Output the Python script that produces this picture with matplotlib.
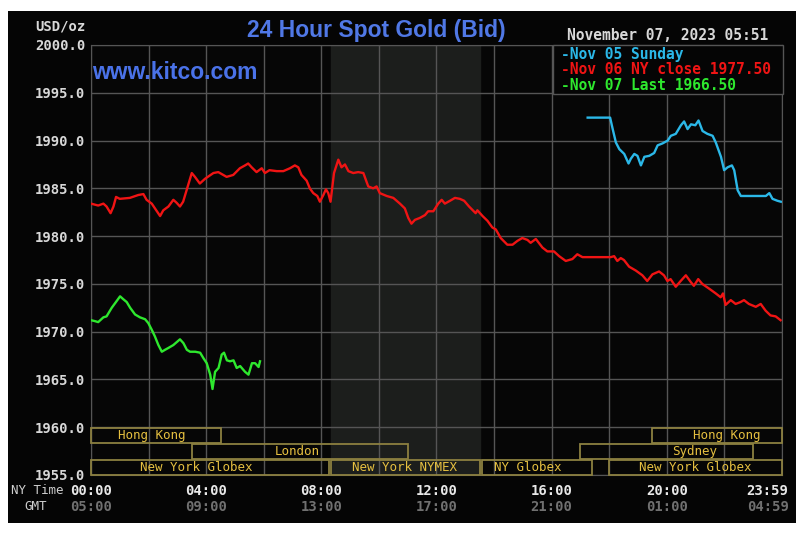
import matplotlib
matplotlib.use('Agg')
import matplotlib.pyplot as plt
from matplotlib.patches import Rectangle

W, H = 803, 535

# ---- data (hours NY time, USD/oz) ----
nov06_hours = [0.0, 0.25, 0.43, 0.54, 0.68, 0.78, 0.87, 1.0, 1.35, 1.64, 1.82, 1.93, 2.11, 2.4, 2.51,
               2.69, 2.86, 2.97, 3.09, 3.2, 3.32, 3.5, 3.61, 3.78, 3.96, 4.25, 4.42, 4.71, 4.94, 5.17,
               5.35, 5.46, 5.58, 5.75, 5.93, 6.04, 6.2, 6.45, 6.68, 6.91, 7.08, 7.2, 7.31, 7.49, 7.6,
               7.72, 7.86, 7.95, 8.07, 8.16, 8.24, 8.32, 8.44, 8.59, 8.7, 8.82, 8.94, 9.11, 9.28, 9.46,
               9.63, 9.8, 9.92, 10.03, 10.27, 10.5, 10.73, 10.9, 11.02, 11.13, 11.25, 11.42, 11.6, 11.71,
               11.89, 12.06, 12.18, 12.29, 12.47, 12.64, 12.81, 12.96, 13.13, 13.36, 13.42, 13.6, 13.77,
               13.94, 14.06, 14.23, 14.46, 14.64, 14.81, 14.98, 15.16, 15.27, 15.45, 15.68, 15.85, 16.08,
               16.26, 16.49, 16.72, 16.89, 17.07, 17.41, 17.76, 18.05, 18.17, 18.28, 18.4, 18.51, 18.69,
               18.92, 19.15, 19.32, 19.5, 19.73, 19.9, 20.02, 20.13, 20.31, 20.48, 20.66, 20.83, 20.94,
               21.09, 21.23, 21.47, 21.7, 21.87, 21.95, 22.04, 22.22, 22.39, 22.56, 22.68, 22.85, 23.09,
               23.26, 23.43, 23.6, 23.78, 23.95]
nov06_price = [1983.4, 1983.2, 1983.4, 1983.1, 1982.4, 1983.1, 1984.1, 1983.9, 1984.0, 1984.3, 1984.4,
               1983.8, 1983.4, 1982.1, 1982.7, 1983.1, 1983.8, 1983.5, 1983.1, 1983.6, 1984.8, 1986.6,
               1986.2, 1985.5, 1986.0, 1986.6, 1986.7, 1986.2, 1986.4, 1987.1, 1987.4, 1987.6, 1987.2,
               1986.7, 1987.1, 1986.6, 1986.9, 1986.8, 1986.8, 1987.1, 1987.4, 1987.2, 1986.4, 1985.8,
               1985.0, 1984.5, 1984.2, 1983.6, 1984.3, 1984.9, 1984.5, 1983.6, 1986.6, 1988.0, 1987.2,
               1987.5, 1986.8, 1986.6, 1986.7, 1986.6, 1985.2, 1985.0, 1985.2, 1984.5, 1984.2, 1984.0,
               1983.4, 1982.9, 1981.9, 1981.3, 1981.7, 1981.9, 1982.2, 1982.6, 1982.6, 1983.4, 1983.8,
               1983.4, 1983.7, 1984.0, 1983.9, 1983.7, 1983.1, 1982.4, 1982.7, 1982.1, 1981.6, 1980.9,
               1980.7, 1979.8, 1979.1, 1979.1, 1979.5, 1979.8, 1979.6, 1979.3, 1979.7, 1978.8, 1978.4,
               1978.4, 1977.9, 1977.4, 1977.6, 1978.1, 1977.8, 1977.8, 1977.8, 1977.8, 1977.9, 1977.4,
               1977.7, 1977.5, 1976.8, 1976.4, 1975.9, 1975.3, 1976.0, 1976.3, 1975.9, 1975.3, 1975.5,
               1974.7, 1975.3, 1975.9, 1975.2, 1974.8, 1975.5, 1975.0, 1974.5, 1974.0, 1973.6, 1974.0,
               1972.8, 1973.3, 1972.9, 1973.1, 1973.3, 1972.9, 1972.6, 1972.9, 1972.2, 1971.7, 1971.6,
               1971.2]

nov05_hours = [17.25, 18.0, 18.03, 18.12, 18.23, 18.35, 18.52, 18.67, 18.75, 18.87, 18.98, 19.1, 19.22,
               19.39, 19.56, 19.68, 19.85, 20.03, 20.14, 20.31, 20.49, 20.6, 20.72, 20.84, 20.99, 21.1,
               21.24, 21.41, 21.59, 21.7, 21.88, 21.99, 22.11, 22.26, 22.34, 22.46, 22.57, 22.86, 23.44,
               23.56, 23.67, 23.84, 23.96]
nov05_price = [1992.4, 1992.4, 1992.4, 1991.2, 1989.8, 1989.1, 1988.6, 1987.6, 1988.1, 1988.6, 1988.4,
               1987.4, 1988.3, 1988.4, 1988.7, 1989.5, 1989.7, 1990.0, 1990.5, 1990.7, 1991.6, 1992.0,
               1991.2, 1991.7, 1991.6, 1992.1, 1991.0, 1990.7, 1990.5, 1989.8, 1988.3, 1986.9, 1987.2,
               1987.4, 1986.9, 1984.8, 1984.2, 1984.2, 1984.2, 1984.5, 1983.9, 1983.7, 1983.6]

nov07_hours = [0.0, 0.14, 0.25, 0.43, 0.54, 0.72, 0.89, 1.01, 1.12, 1.24, 1.36, 1.53, 1.7, 1.88, 1.99,
               2.11, 2.22, 2.34, 2.46, 2.57, 2.69, 2.86, 3.09, 3.21, 3.33, 3.44, 3.62, 3.79, 3.91, 4.02,
               4.14, 4.22, 4.31, 4.43, 4.54, 4.62, 4.72, 4.83, 4.95, 5.06, 5.18, 5.35, 5.47, 5.59, 5.7,
               5.82, 5.87]
nov07_price = [1971.2, 1971.1, 1971.0, 1971.5, 1971.6, 1972.5, 1973.2, 1973.7, 1973.4, 1973.1, 1972.5,
               1971.8, 1971.5, 1971.3, 1970.9, 1970.2, 1969.5, 1968.6, 1967.9, 1968.1, 1968.3, 1968.6,
               1969.2, 1968.8, 1968.1, 1967.9, 1967.9, 1967.8, 1967.2, 1966.7, 1965.5, 1964.0, 1965.8,
               1966.2, 1967.6, 1967.8, 1967.0, 1966.9, 1967.0, 1966.2, 1966.4, 1965.8, 1965.5, 1966.7,
               1966.7, 1966.3, 1966.9]

# market sessions: (row, start, end, label, label position)
sess_row = [2, 1, 2, 0, 0, 0, 1]
sess_start = [0.0, 3.5, 19.5, 0.0, 8.33, 13.58, 17.0]
sess_end = [4.5, 11.0, 24.0, 8.25, 13.5, 17.4, 23.0]
sess_label = ['Hong Kong', 'London', 'Hong Kong', 'New York Globex', 'New York NYMEX', 'NY Globex', 'Sydney']
sess_text_x = [2.12, 7.16, 22.09, 3.65, 10.9, 15.18, 20.98]
sess_row.append(0)
sess_start.append(18.0)
sess_end.append(24.0)
sess_label.append('New York Globex')
sess_text_x.append(20.98)

nymex_open, nymex_close = 8.33, 13.5

tick_pos = [0, 4, 8, 12, 16, 20, 23.5]
ny_labels = ['00:00', '04:00', '08:00', '12:00', '16:00', '20:00', '23:59']
gmt_labels = ['05:00', '09:00', '13:00', '17:00', '21:00', '01:00', '04:59']

legend_items = ['-Nov 05 Sunday', '-Nov 06 NY close 1977.50', '-Nov 07 Last 1966.50']

col_05 = '#2bb8e8'
col_06 = '#f01414'
col_07 = '#2ee82e'
grid_col = '#555555'
sess_edge = '#8c8040'
sess_text = '#e6c040'
mono = 'DejaVu Sans Mono'


def fx(x):
    return x / W


def fy(y):
    return 1 - y / H


fig = plt.figure(figsize=(W / 100, H / 100), dpi=100)
fig.patch.set_facecolor('white')
fig.add_artist(Rectangle((fx(8), fy(523)), fx(796) - fx(8), fy(11) - fy(523),
                         transform=fig.transFigure, facecolor='#050505', edgecolor='none', zorder=-10))

ax = fig.add_axes([fx(91), fy(475), fx(782) - fx(91), fy(45) - fy(475)])
ax.set_facecolor('#060606')
ax.set_xlim(0, 24)
ax.set_ylim(1955, 2000)

ax.axvspan(nymex_open, nymex_close, color='#1c1e1c', zorder=0)

ax.set_xticks(range(0, 25, 2))
ax.set_xticklabels([])
ax.set_yticks(range(1955, 2001, 5))
ax.set_yticklabels(['%.1f' % v for v in range(1955, 2001, 5)])
ax.tick_params(length=0, pad=4)
ax.tick_params(axis='y', labelcolor='#d8d8d8', labelsize=10)
for lab in ax.get_yticklabels():
    lab.set_fontfamily(mono)
    lab.set_fontweight('bold')
ax.grid(True, color=grid_col, lw=1.0, zorder=1)
ax.set_axisbelow(True)
for sp in ax.spines.values():
    sp.set_color(grid_col)

ax.plot(nov06_hours, nov06_price, color=col_06, lw=1.7, zorder=3)
ax.plot(nov05_hours, nov05_price, color=col_05, lw=1.7, zorder=3)
ax.plot(nov07_hours, nov07_price, color=col_07, lw=1.7, zorder=4)

# session boxes along the bottom
row_h = 5 / 3.0
for r, s, e, lab, tx in zip(sess_row, sess_start, sess_end, sess_label, sess_text_x):
    y0 = 1955 + r * row_h
    ax.add_patch(Rectangle((s, y0 + 0.05), e - s, row_h - 0.1, fill=False,
                           edgecolor=sess_edge, lw=1.3, zorder=5, clip_on=False))
    ax.text(tx, y0 + row_h / 2, lab, color=sess_text, fontsize=9, family=mono,
            ha='center', va='center', zorder=6)

# time axis labels
xt = ax.get_xaxis_transform()
for p, ny, gmt in zip(tick_pos, ny_labels, gmt_labels):
    ax.text(p, (475 - 491) / 430, ny, transform=xt, ha='center', va='center',
            color='#e8e8e8', fontsize=10, family=mono, fontweight='bold')
    ax.text(p, (475 - 507) / 430, gmt, transform=xt, ha='center', va='center',
            color='#707070', fontsize=10, family=mono, fontweight='bold')
fig.text(fx(37), fy(491), 'NY Time', ha='center', va='center', color='#cfcfcf', fontsize=9, family=mono)
fig.text(fx(36), fy(507), 'GMT', ha='center', va='center', color='#cfcfcf', fontsize=9, family=mono)

# titles
fig.text(fx(86), fy(27), 'USD/oz', ha='right', va='center', color='#d8d8d8', fontsize=10,
         family=mono, fontweight='bold')
fig.text(fx(376), fy(30), '24 Hour Spot Gold (Bid)', ha='center', va='center', color='#5078e6',
         fontsize=16.5, family='Liberation Sans', fontweight='bold')
fig.text(fx(92), fy(72), 'www.kitco.com', ha='left', va='center', color='#4a72e8',
         fontsize=16.5, family='Liberation Sans', fontweight='bold', zorder=7)
fig.text(fx(768), fy(35), 'November 07, 2023 05:51', ha='right', va='center', color='#d8d8d8',
         fontsize=10.5, family=mono, fontweight='bold')

# legend box
fig.add_artist(Rectangle((fx(553), fy(94)), fx(783) - fx(553), fy(45) - fy(94),
                         transform=fig.transFigure, facecolor='#050505', edgecolor=grid_col,
                         lw=1.0, zorder=8))
for i, (txt, c) in enumerate(zip(legend_items, [col_05, col_06, col_07])):
    fig.text(fx(561), fy(54 + 15.5 * i), txt, ha='left', va='center', color=c, fontsize=10.5,
             family=mono, fontweight='bold', zorder=9)

fig.savefig('out.png', dpi=100, facecolor=fig.get_facecolor())
